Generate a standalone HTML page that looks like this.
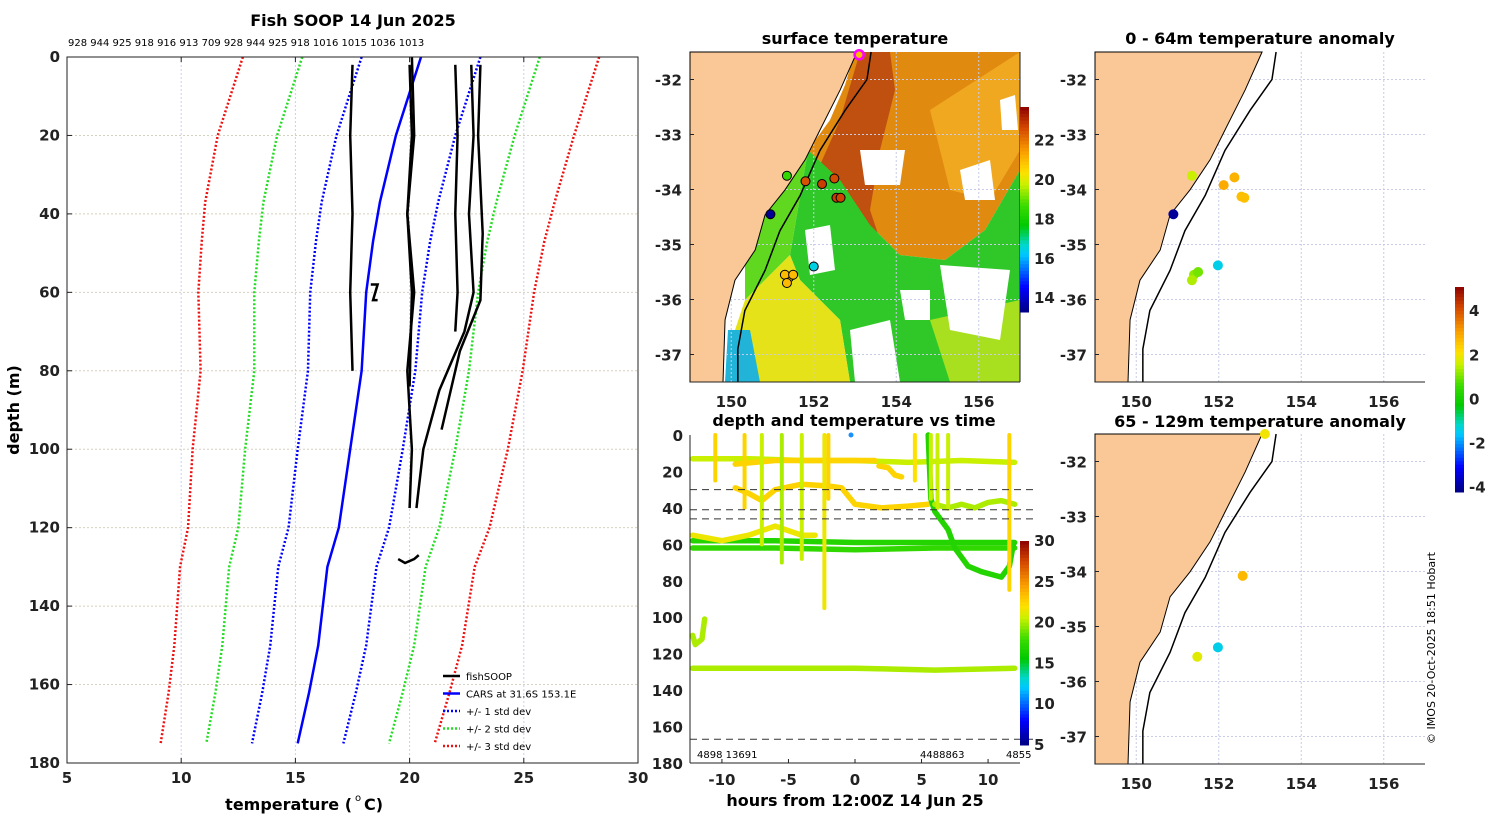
<!DOCTYPE html>
<html><head><meta charset="utf-8">
<style>
html,body{margin:0;padding:0;background:#fff;}
svg{display:block;font-family:"DejaVu Sans","Liberation Sans",sans-serif;}
.t{font-weight:bold;font-size:16px;}
.tk{font-weight:bold;font-size:15px;fill:#222;}
.sm{font-size:10px;}
</style></head>
<body>
<svg id="fig" width="1500" height="820" viewBox="0 0 1500 820"></svg>
<script>
// ---------- DATA ----------
const depthLevels=[0,20,37,47,60,80,100,120,130,150,162,175];
const carsTemp=[20.5,19.4,18.7,18.4,18.1,17.9,17.4,16.9,16.4,16.0,15.6,15.1];
const carsStd=[2.6,2.6,2.55,2.5,2.45,2.35,2.3,2.2,2.15,2.1,2.05,2.0];
const stdMultipliers=[1,2,3];
const stdColors=['#0000ff','#22dd22','#ee1111'];
const topLabels=['928','944','925','918','916','913','709','928','944','925','918','1016','1015','1036','1013'];
const profiles=[
 [[17.5,2],[17.4,20],[17.5,40],[17.4,60],[17.5,80]],
 [[20.0,2],[20.1,20],[19.9,40],[20.1,60],[20.0,84]],
 [[20.1,0],[20.2,20],[19.9,40],[20.2,60],[19.9,80],[20.1,100],[20.0,115]],
 [[22.0,2],[22.1,20],[22.0,40],[22.1,60],[22.0,70]],
 [[22.7,2],[22.8,20],[22.6,40],[22.8,60],[22.4,70],[21.3,85],[20.6,100],[20.3,115]],
 [[23.1,2],[23.0,20],[23.2,45],[23.1,62],[22.2,75],[21.4,95]],
 [[18.3,58],[18.6,58],[18.4,62],[18.6,62]],
 [[19.5,128],[19.8,129],[20.2,128],[20.4,127]]
];
const sstRange=[13.3,23.7];
const coastLon=[153.05,152.64,152.15,151.79,151.30,150.82,150.58,150.09,149.85,149.8];
const coastLat=[-31.5,-32.19,-32.92,-33.46,-34.01,-34.46,-35.1,-35.65,-36.37,-37.5];
const isoLon=[153.39,153.29,152.76,152.15,151.67,151.18,150.82,150.33,150.16,150.16];
const isoLat=[-31.5,-32.0,-32.56,-33.29,-34.11,-34.75,-35.47,-36.2,-36.9,-37.5];
const stnLon=[151.35,150.95,151.8,152.2,152.5,152.55,152.65,152.0,151.4,151.3,151.35,151.5,153.1];
const stnLat=[-33.75,-34.45,-33.85,-33.9,-33.8,-34.15,-34.15,-35.4,-35.6,-35.55,-35.7,-35.55,-31.55];
const stnTemp=[18.5,13.5,22.5,22.8,22.6,22.8,22.7,16.5,21.0,21.0,21.0,21.0,21.0];
const anomRange=[-4.2,5.1];
const a1Lon=[151.35,152.12,152.38,152.55,152.62,150.9,151.4,151.5,151.35,151.98];
const a1Lat=[-33.75,-33.92,-33.78,-34.13,-34.15,-34.45,-35.55,-35.5,-35.65,-35.38];
const a1Val=[1.6,2.9,2.8,2.6,2.6,-4.0,1.2,1.0,1.4,-1.4];
const a2Lon=[153.12,152.58,151.48,151.98];
const a2Lat=[-31.5,-34.08,-35.55,-35.38];
const a2Val=[2.0,2.7,1.8,-1.4];
const dtTempRange=[5,30];
const traceTimes=[
 [-12.2,-8,-4,0,4,8,12],
 [-9,-6,-3,-1,1.5],
 [-9,-8,-7,-6,-4,-2,-1,0,2,4,5.5],
 [-12.2,-6,0,6,12],
 [-12.2,-6,0,6,12],
 [-12.2,-10,-8,-6,-4,-3],
 [-12.2,-6,0,6,12],
 [5.5,5.7,6,7,7.5,8.5,9.5,11,11.6,11.9],
 [6,7,8,9,10,11,12],
 [-12.2,-12,-11.5,-11.3],
 [1.8,2.5,3,3.5]
];
const traceDepths=[
 [13,13,14,14,15,14,15],
 [16,14,14,14,14],
 [29,32,36,30,27,28,29,38,40,39,38],
 [58,58,59,59,59],
 [62,62,63,62,62],
 [55,58,55,50,55,55],
 [128,128,128,129,128,128],
 [0,35,42,52,62,72,75,78,72,60],
 [38,40,38,40,37,36,38],
 [110,115,112,101],
 [17,18,22,23]
];
const traceTemps=[20.5,22.5,22.5,17,17.5,21.5,20,17,20,20,22.5];
const spikeTimes=[-10.5,-8.3,-7,-5.5,-4,-2.3,-2,4.5,5.7,6.2,7,11.6];
const spikeDepthsMax=[25,40,60,70,68,95,35,25,35,40,40,85];
const spikeTemps=[22.5,22.5,20.5,20,20.5,21.5,22.5,22,20.5,20.5,20.5,22.5];
const dashDepths=[30,41,46,167];

// ---------- helpers ----------
const NS='http://www.w3.org/2000/svg';
const svg=document.getElementById('fig');
function mk(tag,attrs,parent){const e=document.createElementNS(NS,tag);for(const k in attrs)e.setAttribute(k,attrs[k]);(parent||svg).appendChild(e);return e;}
function txt(x,y,s,cls,anchor,parent){const e=mk('text',{x:x,y:y,class:cls||'tk','text-anchor':anchor||'middle'},parent);e.textContent=s;return e;}
const CM=[[0,0,0,130],[0.12,0,0,255],[0.28,0,200,255],[0.33,0,215,200],[0.42,0,200,0],[0.52,60,220,0],[0.62,200,240,0],[0.68,255,225,0],[0.78,250,160,0],[0.9,210,70,0],[1,140,0,0]];
function jet(v){v=Math.max(0,Math.min(1,v));
 for(let i=1;i<CM.length;i++){if(v<=CM[i][0]){const a=CM[i-1],b=CM[i],f=(v-a[0])/(b[0]-a[0]);
  return 'rgb('+[1,2,3].map(k=>Math.round(a[k]+(b[k]-a[k])*f)).join(',')+')';}}
 return 'rgb(140,0,0)';}
function sstC(t){return jet((t-sstRange[0])/(sstRange[1]-sstRange[0]));}

// ---------- main profile plot ----------
const M={x0:67,x1:638,y0:57,y1:763};
const tx=t=>M.x0+(t-5)/25*(M.x1-M.x0);
const dy=d=>M.y0+d/180*(M.y1-M.y0);
const gMain=mk('g',{});


for(let t=10;t<30;t+=5) mk('line',{x1:tx(t),x2:tx(t),y1:M.y0,y2:M.y1,stroke:'#c8d0f0','stroke-dasharray':'2,2','stroke-width':1},gMain);
for(let d=20;d<180;d+=20) mk('line',{x1:M.x0,x2:M.x1,y1:dy(d),y2:dy(d),stroke:'#d8d0c0','stroke-dasharray':'2,2','stroke-width':1},gMain);
stdMultipliers.forEach((k,i)=>{[1,-1].forEach(sg=>{
 const p=depthLevels.map((d,j)=>tx(carsTemp[j]+sg*k*carsStd[j])+','+dy(d)).join(' ');
 const l=mk('polyline',{points:p,fill:'none',stroke:stdColors[i],'stroke-width':2.5,'stroke-dasharray':'2,2'},gMain);
 
 
});});
const cars=mk('polyline',{points:depthLevels.map((d,j)=>tx(carsTemp[j])+','+dy(d)).join(' '),fill:'none',stroke:'#0000ff','stroke-width':2.5},gMain);


profiles.forEach((pr,i)=>{
 const l=mk('polyline',{points:pr.map(p=>tx(p[0])+','+dy(p[1])).join(' '),fill:'none',stroke:'#000','stroke-width':2.5},gMain);
 
 
});
mk('rect',{x:M.x0,y:M.y0,width:M.x1-M.x0,height:M.y1-M.y0,fill:'none',stroke:'#222','stroke-width':1},gMain);
for(let t=5;t<=30;t+=5){mk('line',{x1:tx(t),x2:tx(t),y1:M.y1,y2:M.y1-5,stroke:'#222'},gMain);mk('line',{x1:tx(t),x2:tx(t),y1:M.y0,y2:M.y0+5,stroke:'#222'},gMain);txt(tx(t),783,String(t),'tk','middle',gMain);}
for(let d=0;d<=180;d+=20){mk('line',{x1:M.x0,x2:M.x0+5,y1:dy(d),y2:dy(d),stroke:'#222'},gMain);txt(60,dy(d)+5,String(d),'tk','end',gMain);}
const mt=txt(353,26,'Fish SOOP 14 Jun 2025','t','middle');
const tl=txt(68,46,topLabels.join(' '),'sm','start');
const xl=txt(352,810,'temperature (','t','end');
txt(358,801,'o','sm','middle');txt(364,810,' C)','t','start');
const yl=mk('text',{x:0,y:0,class:'t','text-anchor':'middle',transform:'translate(19,410) rotate(-90)'});yl.textContent='depth (m)';

const leg=mk('g',{});
const legItems=[['fishSOOP','#000',''],['CARS at 31.6S 153.1E','#0000ff',''],['+/- 1 std dev','#0000ff','2,2'],['+/- 2 std dev','#22dd22','2,2'],['+/- 3 std dev','#ee1111','2,2']];
legItems.forEach((it,i)=>{const y=676+i*17.5;
 const a={x1:443,x2:460,y1:y,y2:y,stroke:it[1],'stroke-width':2.5};if(it[2])a['stroke-dasharray']=it[2];mk('line',a,leg);
 const e=txt(466,y+4,it[0],'sm','start',leg);e.setAttribute('font-size','12');});

// ---------- maps ----------
function mapAxes(x0,y0,id){
 const g=mk('g',{});
 const lx=l=>x0+(l-149)*41.25, ly=a=>y0+(-31.5-a)*55;
 return {g,lx,ly,x0,y0,W:330,H:330};
}
function drawCoast(m){
 const pts=coastLon.map((l,i)=>m.lx(l)+','+m.ly(coastLat[i]));
 pts.push(m.x0+','+(m.y0+m.H));pts.push(m.x0+','+m.y0);
 const land=mk('polygon',{points:pts.join(' '),fill:'#f9c896',stroke:'#000','stroke-width':1},m.g);
 
 const iso=mk('polyline',{points:isoLon.map((l,i)=>m.lx(l)+','+m.ly(isoLat[i])).join(' '),fill:'none',stroke:'#000','stroke-width':1.5},m.g);
 
}
function mapGrid(m){
 for(let l=150;l<=156;l+=2)mk('line',{x1:m.lx(l),x2:m.lx(l),y1:m.y0,y2:m.y0+m.H,stroke:'#c8cce8','stroke-dasharray':'2,2'},m.g);
 for(let a=-32;a>=-37;a--)mk('line',{x1:m.x0,x2:m.x0+m.W,y1:m.ly(a),y2:m.ly(a),stroke:'#c8cce8','stroke-dasharray':'2,2'},m.g);
}
function mapTicks(m){
 mk('line',{x1:m.x0,x2:m.x0+m.W,y1:m.y0+m.H,y2:m.y0+m.H,stroke:'#222'},m.g);
 for(let a=-32;a>=-37;a--){mk('line',{x1:m.x0,x2:m.x0+4,y1:m.ly(a),y2:m.ly(a),stroke:'#222'},m.g);txt(m.x0-8,m.ly(a)+6,String(a),'tk','end',m.g);}
 for(let l=150;l<=156;l+=2)txt(m.lx(l),m.y0+m.H+25,String(l),'tk','middle',m.g);
}
const m1=mapAxes(690,52,'surface-temperature-map');
mk('rect',{x:690,y:52,width:330,height:330,fill:'#fff'},m1.g);
const field=[
 [[855,52],[1020,52],[1020,170],[985,230],[945,260],[900,255],[870,225],[840,180],[808,150],[830,120],[845,85]],'#e08a10',
 [[860,52],[890,52],[895,90],[880,150],[870,210],[880,240],[860,250],[835,200],[820,165],[840,120]],'#c05010',
 [[808,150],[840,180],[870,225],[900,255],[945,260],[985,230],[1020,170],[1020,382],[850,382],[840,320],[800,280],[790,255]],'#30c828',
 [[808,150],[790,255],[745,300],[745,230],[770,200]],'#60d820',
 [[745,300],[790,255],[800,280],[840,320],[850,382],[728,382],[735,330]],'#e6e21a',
 [[728,330],[750,330],[760,382],[725,382]],'#22b4d8',
 [[930,110],[1020,52],[1020,150],[990,200],[950,190]],'#f0a820',
 [[930,320],[1020,300],[1020,382],[950,382]],'#a8e020'
];
for(let i=0;i<field.length;i+=2)mk('polygon',{points:field[i].map(p=>p.join(',')).join(' '),fill:field[i+1]},m1.g);
const whites=[[[860,150],[905,150],[900,185],[865,185]],[[805,230],[830,225],[835,270],[810,275]],[[940,265],[1010,270],[1000,340],[950,330]],[[850,330],[890,320],[900,382],[855,382]],[[960,170],[990,160],[995,200],[965,200]],[[1000,100],[1015,95],[1018,130],[1002,130]],[[900,290],[930,290],[930,320],[905,320]]];
whites.forEach(w=>mk('polygon',{points:w.map(p=>p.join(',')).join(' '),fill:'#fff'},m1.g));
mapGrid(m1);drawCoast(m1);
stnLon.forEach((l,i)=>{const last=i==stnLon.length-1;const c=mk('circle',{cx:m1.lx(l),cy:m1.ly(stnLat[i]),r:4.5,fill:sstC(stnTemp[i]),stroke:last?'#ff00ff':'#000','stroke-width':last?2.5:1},m1.g);
 });
mapTicks(m1);
mk('line',{x1:1020,x2:1020,y1:52,y2:382,stroke:'#222'},m1.g);
txt(855,44,'surface temperature','t','middle',m1.g);
const cb1=mk('g',{});
for(let i=0;i<60;i++){const v=sstRange[1]-(i+0.5)/60*(sstRange[1]-sstRange[0]);mk('rect',{x:1020,y:107+i*205/60,width:9,height:205/60+0.5,fill:sstC(v)},cb1);}
for(let v=14;v<=22;v+=2){const y=312-(v-sstRange[0])/(sstRange[1]-sstRange[0])*205;txt(1034,y+5,String(v),'tk','start',cb1).setAttribute('font-size','13');}

function anomC(v){return jet((v-anomRange[0])/(anomRange[1]-anomRange[0]));}
const m2=mapAxes(1095,52,'anomaly-map-0-64m');
mapGrid(m2);drawCoast(m2);
a1Lon.forEach((l,i)=>{const c=mk('circle',{cx:m2.lx(l),cy:m2.ly(a1Lat[i]),r:5,fill:anomC(a1Val[i])},m2.g);});
mapTicks(m2);
txt(1260,44,'0 - 64m temperature anomaly','t','middle',m2.g);
const m3=mapAxes(1095,434,'anomaly-map-65-129m');
mapGrid(m3);drawCoast(m3);
a2Lon.forEach((l,i)=>{const c=mk('circle',{cx:m3.lx(l),cy:m3.ly(a2Lat[i]),r:5,fill:anomC(a2Val[i])},m3.g);});
mapTicks(m3);
txt(1260,427,'65 - 129m temperature anomaly','t','middle',m3.g);
const cb2=mk('g',{});
for(let i=0;i<60;i++){const v=anomRange[1]-(i+0.5)/60*(anomRange[1]-anomRange[0]);mk('rect',{x:1455,y:287+i*205/60,width:9,height:205/60+0.5,fill:anomC(v)},cb2);}
for(let v=-4;v<=4;v+=2){const y=492-(v-anomRange[0])/(anomRange[1]-anomRange[0])*205;txt(1469,y+5,String(v),'tk','start',cb2).setAttribute('font-size','13');}

// ---------- depth vs time ----------
const D={x0:690,x1:1020,y0:435,y1:763};
const hx=h=>D.x0+(h+12.4)/24.8*(D.x1-D.x0);
const ddy=d=>D.y0+d/180*(D.y1-D.y0);
const dtC=t=>jet((t-dtTempRange[0])/(dtTempRange[1]-dtTempRange[0]));
const gD=mk('g',{});
traceTimes.forEach((ts,i)=>{const l=mk('polyline',{points:ts.map((t,j)=>hx(t)+','+ddy(traceDepths[i][j])).join(' '),fill:'none',stroke:dtC(traceTemps[i]),'stroke-width':5.5,'stroke-linejoin':'round','stroke-linecap':'round'},gD);
 });
spikeTimes.forEach((t,i)=>{const l=mk('line',{x1:hx(t),x2:hx(t),y1:ddy(0),y2:ddy(spikeDepthsMax[i]),stroke:dtC(spikeTemps[i]),'stroke-width':4,'stroke-linecap':'round'},gD);
 });
mk('circle',{cx:hx(-0.3),cy:ddy(0),r:2.5,fill:'#1a90ff'},gD);
dashDepths.forEach(d=>mk('line',{x1:D.x0,x2:D.x1+18,y1:ddy(d),y2:ddy(d),stroke:'#333','stroke-dasharray':'7,5','stroke-width':1},gD));
mk('line',{x1:D.x0,x2:D.x0,y1:D.y0,y2:D.y1,stroke:'#222'},gD);
mk('line',{x1:D.x0,x2:D.x1,y1:D.y1,y2:D.y1,stroke:'#222'},gD);
for(let d=0;d<=180;d+=20)txt(683,ddy(d)+6,String(d),'tk','end',gD);
for(let h=-10;h<=10;h+=5){mk('line',{x1:hx(h),x2:hx(h),y1:D.y1,y2:D.y1-4,stroke:'#222'},gD);txt(hx(h),785,String(h),'tk','middle',gD);}
txt(854,426,'depth and temperature vs time','t','middle',gD);
txt(855,806,'hours from 12:00Z 14 Jun 25','t','middle',gD);
txt(697,758,'4898 13691','sm','start',gD).setAttribute('font-size','13');
txt(920,758,'4488863','sm','start',gD).setAttribute('font-size','13');
txt(1006,758,'4855','sm','start',gD).setAttribute('font-size','13');
const cb3=mk('g',{});
for(let i=0;i<60;i++){const v=30-(i+0.5)/60*25;mk('rect',{x:1020,y:541+i*204/60,width:9,height:204/60+0.5,fill:dtC(v)},cb3);}
for(let v=5;v<=30;v+=5){const y=745-(v-5)/25*204;txt(1034,y+5,String(v),'tk','start',cb3).setAttribute('font-size','13');}
const cr=mk('text',{x:0,y:0,'font-size':'11','text-anchor':'middle',transform:'translate(1435,648) rotate(-90)'});cr.textContent='© IMOS 20-Oct-2025 18:51 Hobart';

</script>
</body></html>
